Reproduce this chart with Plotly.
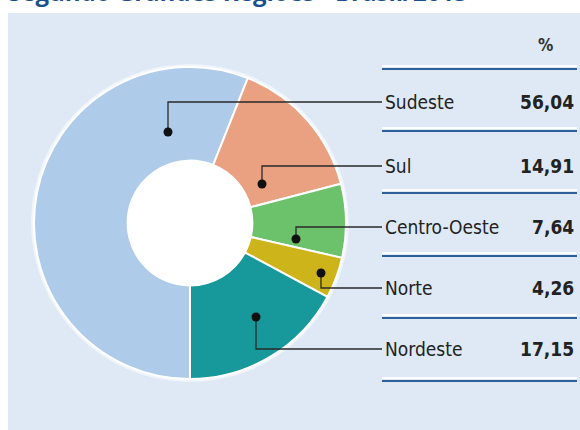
import plotly.graph_objects as go

# Data: share by region (%)
regions = ["Sudeste", "Sul", "Centro-Oeste", "Norte", "Nordeste"]
shares = [56.04, 14.91, 7.64, 4.26, 17.15]
share_labels = ["56,04", "14,91", "7,64", "4,26", "17,15"]
colors = ["#aecbea", "#eaa182", "#6cc26a", "#ceb41b", "#17989a"]
title_text = "Segundo Grandes Regiões - Brasil/2013"

W, H = 580, 430


def px(x):
    return x / W


def py(y):
    return 1 - y / H


# Callout geometry (pixels): dot position, elbow row y
dots = [(168, 132), (262, 184), (296, 239), (321, 273), (256, 317)]
rows = [102, 166, 227, 288, 349]
table_lines = [69, 131, 193, 256, 318, 381]
label_x, value_x, line_x0, line_x1 = 383, 576, 382, 577

cx, cy, r = 190, 223, 156

fig = go.Figure()
fig.add_trace(go.Pie(
    labels=regions,
    values=shares,
    sort=False,
    direction="clockwise",
    rotation=180,
    hole=0.4,
    textinfo="none",
    hoverinfo="label+percent",
    marker=dict(colors=colors, line=dict(color="white", width=2)),
    domain=dict(x=[px(cx - r), px(cx + r)], y=[py(cy + r), py(cy - r)]),
    showlegend=False,
))

shapes = [
    # light blue panel
    dict(type="rect", xref="paper", yref="paper", x0=px(8), x1=px(W + 2),
         y0=py(H + 2), y1=py(13), fillcolor="#dee9f5", line=dict(width=0),
         layer="below"),
    # soft white halo around the ring
    dict(type="circle", xref="paper", yref="paper",
         x0=px(cx - r - 3), x1=px(cx + r + 3),
         y0=py(cy + r + 3), y1=py(cy - r - 3),
         fillcolor="rgba(255,255,255,0.55)", line=dict(width=0), layer="below"),
    # white centre of the donut
    dict(type="circle", xref="paper", yref="paper",
         x0=px(cx - 0.4 * r), x1=px(cx + 0.4 * r),
         y0=py(cy + 0.4 * r), y1=py(cy - 0.4 * r),
         fillcolor="white", line=dict(width=0), layer="below"),
]

for y in table_lines:
    shapes.append(dict(type="line", xref="paper", yref="paper",
                       x0=px(line_x0), x1=px(line_x1), y0=py(y - 3), y1=py(y - 3),
                       line=dict(color="rgba(255,255,255,0.85)", width=2)))
    shapes.append(dict(type="line", xref="paper", yref="paper",
                       x0=px(line_x0), x1=px(line_x1), y0=py(y), y1=py(y),
                       line=dict(color="#2d5f98", width=2)))

for (dx, dy), ry in zip(dots, rows):
    shapes.append(dict(type="path", xref="paper", yref="paper",
                       path=f"M {px(dx)},{py(dy)} L {px(dx)},{py(ry)} L {px(label_x - 1)},{py(ry)}",
                       line=dict(color="#2a2a2a", width=1.3)))
    shapes.append(dict(type="circle", xref="paper", yref="paper",
                       x0=px(dx - 4.5), x1=px(dx + 4.5), y0=py(dy + 4.5), y1=py(dy - 4.5),
                       fillcolor="#111111", line=dict(width=0)))

font_lbl = "Liberation Sans Narrow, DejaVu Sans Condensed, Arial Narrow, sans-serif"
annotations = [
    dict(text="<b>%</b>", x=px(545), y=py(45), xref="paper", yref="paper",
         showarrow=False, xanchor="center", yanchor="middle",
         font=dict(family=font_lbl, size=17, color="#333333")),
    dict(text=f"<b>{title_text}</b>", x=px(6), y=py(10), xref="paper", yref="paper",
         showarrow=False, xanchor="left", yanchor="bottom",
         font=dict(family="Open Sans, sans-serif", size=24, color="#1b4f8c")),
]
for name, val, ry in zip(regions, share_labels, rows):
    annotations.append(dict(text=name, x=px(label_x), y=py(ry), xref="paper", yref="paper",
                            showarrow=False, xanchor="left", yanchor="middle",
                            font=dict(family=font_lbl, size=19, color="#222222")))
    annotations.append(dict(text=f"<b>{val}</b>", x=px(value_x), y=py(ry), xref="paper",
                            yref="paper", showarrow=False, xanchor="right",
                            yanchor="middle",
                            font=dict(family=font_lbl, size=19, color="#222222")))

fig.update_layout(
    width=W, height=H,
    margin=dict(l=0, r=0, t=0, b=0),
    paper_bgcolor="white",
    plot_bgcolor="white",
    shapes=shapes,
    annotations=annotations,
)

fig.write_html("out.html")
